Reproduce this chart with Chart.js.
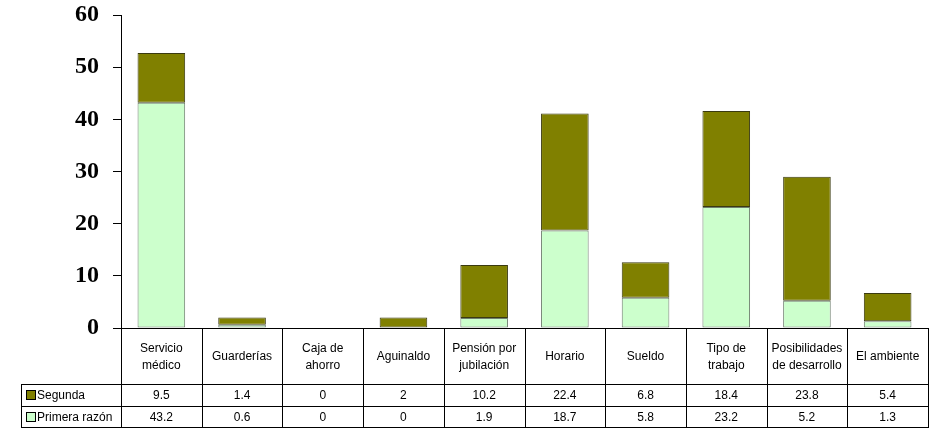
<!DOCTYPE html>
<html>
<head>
<meta charset="utf-8">
<script src="https://cdn.jsdelivr.net/npm/chart.js@4/dist/chart.umd.min.js"></script>
<style>
  html, body { margin: 0; padding: 0; background: #fff; }
  #wrap { width: 933px; height: 430px; }
</style>
</head>
<body>
<div id="wrap"><canvas id="c" width="933" height="430"></canvas></div>
<script>
const categories = [
  ['Servicio', 'médico'],
  ['Guarderías'],
  ['Caja de', 'ahorro'],
  ['Aguinaldo'],
  ['Pensión por', 'jubilación'],
  ['Horario'],
  ['Sueldo'],
  ['Tipo de', 'trabajo'],
  ['Posibilidades', 'de desarrollo'],
  ['El ambiente']
];
const seriesNames = ['Segunda', 'Primera razón'];
const segunda = [9.5, 1.4, 0, 2, 10.2, 22.4, 6.8, 18.4, 23.8, 5.4];
const primera = [43.2, 0.6, 0, 0, 1.9, 18.7, 5.8, 23.2, 5.2, 1.3];
const yTicks = [0, 10, 20, 30, 40, 50, 60];

const colSegunda = '#808000';
const colPrimera = '#CCFFCC';

const tablePlugin = {
  id: 'dataTable',
  afterDraw(chart) {
    const ctx = chart.ctx;
    const area = chart.chartArea;
    const xs = chart.scales.x;
    const n = categories.length;
    const cw = (area.right - area.left) / n;
    const top = Math.round(area.bottom);
    const catBottom = top + 56;
    const row1Bottom = catBottom + 22;
    const row2Bottom = row1Bottom + 21;
    const leftEdge = 21;
    const L = Math.round(area.left);
    const R = Math.round(area.right);
    ctx.save();
    ctx.strokeStyle = '#000';
    ctx.lineWidth = 1;
    ctx.beginPath();
    ctx.moveTo(L, top + 0.5); ctx.lineTo(R + 1, top + 0.5);
    [catBottom, row1Bottom, row2Bottom].forEach(y => {
      ctx.moveTo(leftEdge, y + 0.5); ctx.lineTo(R + 1, y + 0.5);
    });
    for (let i = 0; i <= n; i++) {
      const x = Math.round(area.left + i * cw) + 0.5;
      ctx.moveTo(x, top); ctx.lineTo(x, row2Bottom + 1);
    }
    ctx.moveTo(leftEdge + 0.5, catBottom); ctx.lineTo(leftEdge + 0.5, row2Bottom + 1);
    ctx.stroke();

    ctx.fillStyle = '#000';
    ctx.font = '12px "Liberation Sans", Arial, sans-serif';
    ctx.textAlign = 'center';
    ctx.textBaseline = 'middle';
    const catMid = (top + catBottom) / 2 + 1;
    const r1Mid = (catBottom + row1Bottom) / 2 + 1;
    const r2Mid = (row1Bottom + row2Bottom) / 2 + 1;
    categories.forEach((lines, i) => {
      const cx = xs.getPixelForValue(i);
      const lh = 17;
      const start = catMid - (lines.length - 1) * lh / 2;
      lines.forEach((t, k) => ctx.fillText(t, cx, start + k * lh));
      ctx.fillText(String(segunda[i]), cx, r1Mid);
      ctx.fillText(String(primera[i]), cx, r2Mid);
    });
    ctx.textAlign = 'left';
    const rows = [[seriesNames[0], colSegunda, r1Mid], [seriesNames[1], colPrimera, r2Mid]];
    rows.forEach(([name, col, y]) => {
      ctx.fillStyle = col;
      ctx.fillRect(27, Math.round(y - 5), 8, 8);
      ctx.strokeStyle = '#000';
      ctx.strokeRect(26.5, Math.round(y - 5) - 0.5, 9, 9);
      ctx.fillStyle = '#000';
      ctx.fillText(name, 37, y);
    });
    ctx.restore();
  }
};

new Chart(document.getElementById('c'), {
  type: 'bar',
  data: {
    labels: categories,
    datasets: [
      { label: seriesNames[1], data: primera, backgroundColor: colPrimera, borderColor: '#6f7f6f', borderWidth: 1, borderSkipped: false },
      { label: seriesNames[0], data: segunda, backgroundColor: colSegunda, borderColor: '#3a3a10', borderWidth: 1, borderSkipped: false }
    ]
  },
  options: {
    responsive: false,
    devicePixelRatio: 1,
    animation: false,
    layout: { padding: { top: 0, right: 5, bottom: 102, left: 0 } },
    datasets: { bar: { categoryPercentage: 1, barPercentage: 0.59 } },
    plugins: { legend: { display: false }, tooltip: { enabled: false } },
    scales: {
      x: { stacked: true, display: false },
      y: {
        stacked: true,
        min: 0,
        max: 60,
        afterBuildTicks(scale) { scale.ticks = yTicks.map(v => ({ value: v })); },
        afterFit(scale) { scale.width = 121; scale.paddingTop = 15; scale.paddingBottom = 0; },
        ticks: {
          color: '#000',
          padding: 14,
          font: { family: '"Liberation Serif", "Times New Roman", serif', size: 24, weight: 'bold' }
        },
        grid: { drawOnChartArea: false, tickLength: 8, color: '#000', lineWidth: 1 },
        border: { color: '#000', width: 1 }
      }
    }
  },
  plugins: [tablePlugin]
});
</script>
</body>
</html>
